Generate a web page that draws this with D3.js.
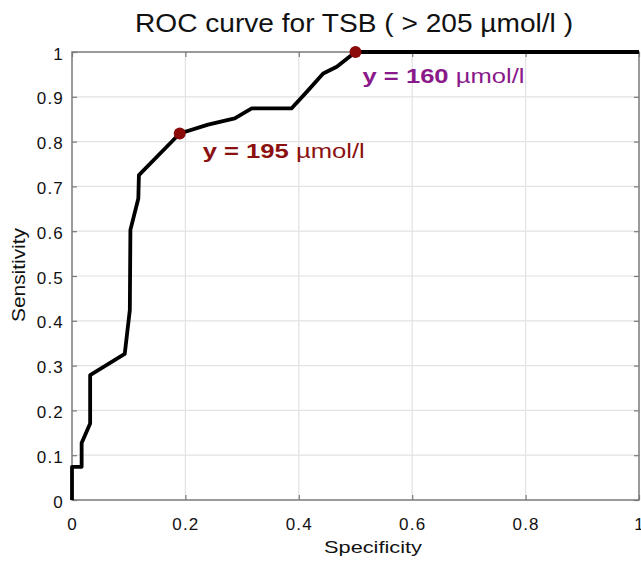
<!DOCTYPE html>
<html>
<head>
<meta charset="utf-8">
<script src="https://d3js.org/d3.v7.min.js"></script>
<style>
  body { margin: 0; background: #fff; }
  svg { display: block; font-family: "Liberation Sans", Arial, sans-serif; }
</style>
</head>
<body>
<svg width="641" height="561"></svg>
<script>
// ROC curve points
const specificity = [0, 0, 0.017, 0.017, 0.032, 0.032, 0.093, 0.102, 0.103, 0.117, 0.118, 0.19, 0.24, 0.287, 0.317, 0.387, 0.414, 0.443, 0.467, 0.5, 1];
const sensitivity = [0, 0.074, 0.074, 0.127, 0.171, 0.279, 0.326, 0.424, 0.603, 0.673, 0.725, 0.818, 0.838, 0.852, 0.874, 0.874, 0.911, 0.952, 0.967, 1, 1];
const markers = [
    { spec: 0.19, sens: 0.818, value: "195", color: "#8b1010" },
    { spec: 0.5, sens: 1, value: "160", color: "#8a1a8a" }
];
const xTicks = [0, 0.2, 0.4, 0.6, 0.8, 1];
const yTicks = [0, 0.1, 0.2, 0.3, 0.4, 0.5, 0.6, 0.7, 0.8, 0.9, 1];

const svg = d3.select("svg");
const x = d3.scaleLinear().domain([0, 1]).range([72, 639]);
const y = d3.scaleLinear().domain([0, 1]).range([500, 52]);

// grid
svg.append("g").selectAll("line")
    .data(xTicks.slice(1, -1)).enter().append("line")
    .attr("x1", d => x(d)).attr("x2", d => x(d))
    .attr("y1", y(0)).attr("y2", y(1))
    .attr("stroke", "#e2e2e2").attr("stroke-width", 1.2);
svg.append("g").selectAll("line")
    .data(yTicks.slice(1, -1)).enter().append("line")
    .attr("x1", x(0)).attr("x2", x(1))
    .attr("y1", d => y(d)).attr("y2", d => y(d))
    .attr("stroke", "#e2e2e2").attr("stroke-width", 1.2);

// frame
svg.append("rect")
    .attr("x", x(0)).attr("y", y(1))
    .attr("width", x(1) - x(0)).attr("height", y(0) - y(1))
    .attr("fill", "none").attr("stroke", "#7a7a7a").attr("stroke-width", 1.5);

// axes (inward ticks, matlab style)
const xAxis = svg.append("g").attr("transform", `translate(0,${y(0)})`)
    .call(d3.axisBottom(x).tickValues(xTicks).tickFormat(d3.format("")).tickSizeInner(-5).tickSizeOuter(0).tickPadding(18));
const xAxisTop = svg.append("g").attr("transform", `translate(0,${y(1)})`)
    .call(d3.axisTop(x).tickValues(xTicks).tickFormat("").tickSizeInner(-5).tickSizeOuter(0));
const yAxis = svg.append("g").attr("transform", `translate(${x(0)},0)`)
    .call(d3.axisLeft(y).tickValues(yTicks).tickFormat(d3.format("")).tickSizeInner(-5).tickSizeOuter(0).tickPadding(8));
const yAxisRight = svg.append("g").attr("transform", `translate(${x(1)},0)`)
    .call(d3.axisRight(y).tickValues(yTicks).tickFormat("").tickSizeInner(-5).tickSizeOuter(0));
[xAxis, xAxisTop, yAxis, yAxisRight].forEach(a => {
    a.select(".domain").remove();
    a.selectAll(".tick line").attr("stroke", "#7a7a7a").attr("stroke-width", 1.2);
    a.selectAll("text").attr("font-size", 17).attr("fill", "#111")
        .attr("letter-spacing", 1.2)
        .attr("font-family", "Liberation Sans, Arial, sans-serif");
});
yAxis.selectAll("text").attr("dy", "0.42em");

// curve
const line = d3.line().x(d => x(d[0])).y(d => y(d[1]));
svg.append("path")
    .datum(d3.zip(specificity, sensitivity))
    .attr("d", line)
    .attr("fill", "none").attr("stroke", "#000").attr("stroke-width", 3.8)
    .attr("stroke-linejoin", "round");

// markers
svg.append("g").selectAll("circle")
    .data(markers).enter().append("circle")
    .attr("cx", d => x(d.spec)).attr("cy", d => y(d.sens)).attr("r", 6)
    .attr("fill", "#8b0a0a");

const lbl = svg.append("g").selectAll("text")
    .data(markers).enter().append("text")
    .attr("x", d => x(d.spec) + (d.sens === 1 ? 7 : 23))
    .attr("y", d => y(d.sens) + (d.sens === 1 ? 31 : 24))
    .attr("font-size", 21).attr("fill", d => d.color)
    .attr("textLength", 162).attr("lengthAdjust", "spacingAndGlyphs");
lbl.append("tspan").attr("font-weight", "bold").text(d => "y = " + d.value);
lbl.append("tspan").text(" \u00b5mol/l");

// titles
svg.append("text").attr("x", 135).attr("y", 32)
    .attr("font-size", 25).attr("fill", "#111")
    .attr("textLength", 438).attr("lengthAdjust", "spacingAndGlyphs")
    .text("ROC curve for TSB ( > 205 \u00b5mol/l )");
svg.append("text").attr("x", 324).attr("y", 553)
    .attr("font-size", 17).attr("fill", "#111")
    .attr("textLength", 98).attr("lengthAdjust", "spacingAndGlyphs")
    .text("Specificity");
svg.append("text").attr("transform", "translate(25,322) rotate(-90)")
    .attr("font-size", 18).attr("fill", "#111")
    .attr("textLength", 94).attr("lengthAdjust", "spacingAndGlyphs")
    .text("Sensitivity");
</script>
</body>
</html>
